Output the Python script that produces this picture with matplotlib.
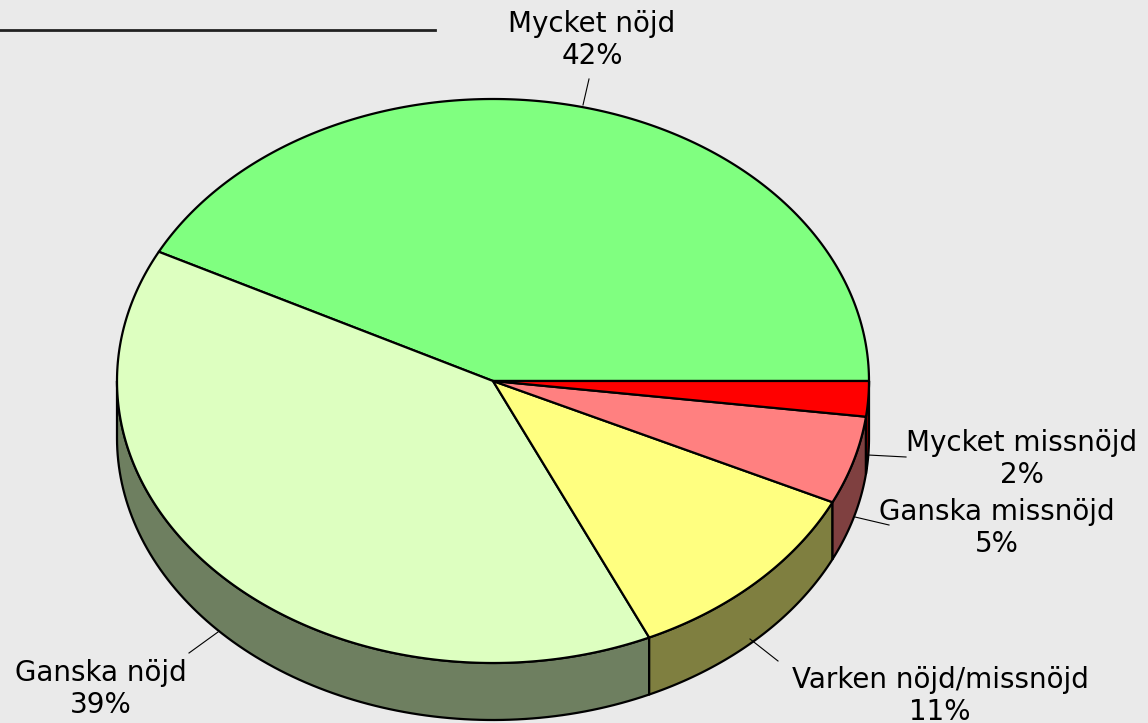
import numpy as np
import matplotlib.pyplot as plt
from matplotlib.patches import Polygon

# survey answers (share in %)
labels = ['Mycket nöjd', 'Ganska nöjd', 'Varken nöjd/missnöjd', 'Ganska missnöjd', 'Mycket missnöjd']
shares = [42, 39, 11, 5, 2]
top_colors = ['#80FF80', '#DDFFC0', '#FFFF80', '#FF8080', '#FF0000']
side_colors = ['#408040', '#6E7F60', '#7F7F40', '#7F4040', '#7F0000']

# label placement (pixel space), leader line start/end
label_pos = [(592, 40), (101, 689), (940, 696), (997, 528), (1022, 459)]
leaders = [((583, 105), (589, 79)), ((218, 632), (189, 653)), ((750, 639), (778, 661)),
           ((855, 517), (889, 525)), ((868, 455), (906, 457))]

cx, cy, rx, ry, depth = 493, 381, 376, 282, 57

fig = plt.figure(figsize=(11.48, 7.23), dpi=100)
fig.patch.set_facecolor('#EAEAEA')
ax = fig.add_axes([0, 0, 1, 1])
ax.set_xlim(0, 1148)
ax.set_ylim(723, 0)
ax.axis('off')


def ell(a, dz=0):
    return np.column_stack([cx + rx * np.cos(a), cy - ry * np.sin(a) + dz])


bounds = np.concatenate([[0], np.cumsum(shares)]) / sum(shares) * 2 * np.pi

# side walls (only the front half is visible)
for i in range(len(shares)):
    a1, a2 = max(bounds[i], np.pi), min(bounds[i + 1], 2 * np.pi)
    if a2 <= a1:
        continue
    t = np.linspace(a1, a2, 100)
    pts = np.vstack([ell(t), ell(t[::-1], depth)])
    ax.add_patch(Polygon(pts, closed=True, facecolor=side_colors[i], edgecolor='black',
                         lw=1.6, joinstyle='round'))

# top of pie
for i in range(len(shares)):
    t = np.linspace(bounds[i], bounds[i + 1], 200)
    pts = np.vstack([[[cx, cy]], ell(t)])
    ax.add_patch(Polygon(pts, closed=True, facecolor=top_colors[i], edgecolor='black',
                         lw=1.6, joinstyle='round'))

for lab, s, (tx, ty), (p0, p1) in zip(labels, shares, label_pos, leaders):
    ax.plot([p0[0], p1[0]], [p0[1], p1[1]], color='black', lw=0.8)
    ax.text(tx, ty, f'{lab}\n{s}%', ha='center', va='center', fontsize=20,
            color='black', linespacing=1.22)

# rule at the top left
ax.plot([0, 435], [30, 30], color='#222222', lw=2)

fig.savefig('out.png', dpi=100, facecolor=fig.get_facecolor())
